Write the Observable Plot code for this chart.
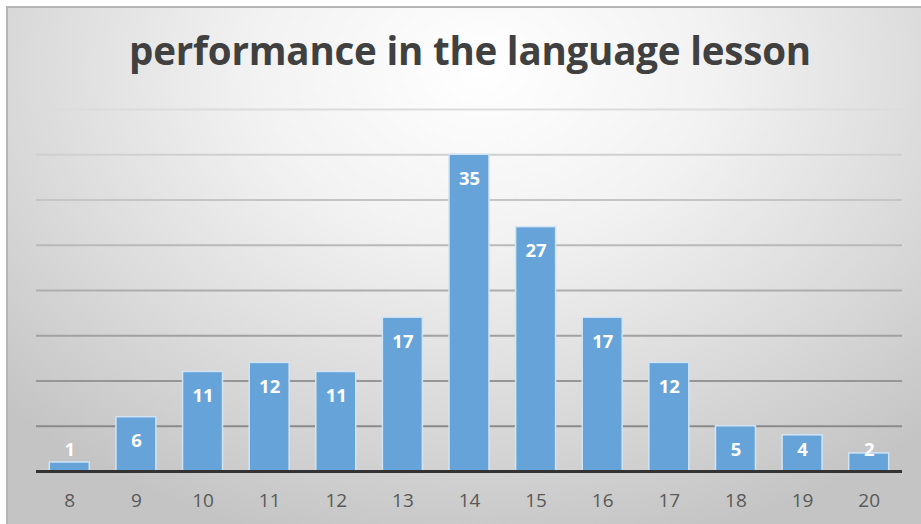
<!DOCTYPE html>
<html>
<head>
<meta charset="utf-8">
<script src="https://cdn.jsdelivr.net/npm/d3@7"></script>
<script src="https://cdn.jsdelivr.net/npm/@observablehq/plot@0.6"></script>
<style>
  html, body { margin: 0; padding: 0; background: #fff; }
  #wrap { position: relative; width: 921px; height: 524px; overflow: hidden; background: #fff; }
  #bg { position: absolute; left: 6px; top: 6px; width: 915px; height: 518px;
        border-left: 2px solid #b4b4b4; border-top: 2px solid #b4b4b4; box-sizing: border-box;
        background: radial-gradient(ellipse 72% 95% at 52% 12%, #ffffff 0%, #f2f2f2 35%, #dadada 70%, #c4c4c4 100%); }
  #title { position: absolute; left: 0; top: 24px; width: 940px; text-align: center;
           font-family: "Open Sans", sans-serif; font-weight: 700; font-size: 38.5px; color: #404040; letter-spacing: -0.2px; }
  #chart { position: absolute; left: 0; top: 100px; }
</style>
</head>
<body>
<div id="wrap">
  <div id="bg"></div>
  <div id="title">performance in the language lesson</div>
  <div id="chart"></div>
</div>
<script>
const grades = ["8","9","10","11","12","13","14","15","16","17","18","19","20"];
const counts = [1, 6, 11, 12, 11, 17, 35, 27, 17, 12, 5, 4, 2];
const gridValues = [5, 10, 15, 20, 25, 30, 35, 40];

const data = grades.map((g, i) => ({grade: g, count: counts[i]}));
const gridColor = d3.interpolateRgb("#8a8a8a", "#dcdcdc");

const plot = Plot.plot({
  width: 921,
  height: 424,
  marginTop: 9,
  marginBottom: 53,
  marginLeft: 36,
  marginRight: 19,
  style: {background: "transparent", fontFamily: "Open Sans, sans-serif"},
  x: {domain: grades, paddingInner: 0.4, paddingOuter: 0.2, round: false, label: null},
  y: {domain: [0, 40], axis: null},
  marks: [
    Plot.ruleY(gridValues, {stroke: d => gridColor((d - 5) / 35), strokeWidth: 2}),
    Plot.barY(data, {x: "grade", y: "count", fill: "#65a3d9", stroke: "#d2e4f4", strokeWidth: 1.5}),
    Plot.ruleY([0], {stroke: "#333333", strokeWidth: 3}),
    Plot.text(data, {x: "grade", y: d => Math.max(d.count, 5), text: d => String(d.count), dy: 24,
      fill: "white", fontWeight: "bold", fontSize: 18.5, lineAnchor: "middle"}),
    Plot.axisX({tickSize: 0, tickPadding: 22, fontSize: 19, color: "#595959", label: null})
  ]
});
document.getElementById("chart").appendChild(plot);
</script>
</body>
</html>
